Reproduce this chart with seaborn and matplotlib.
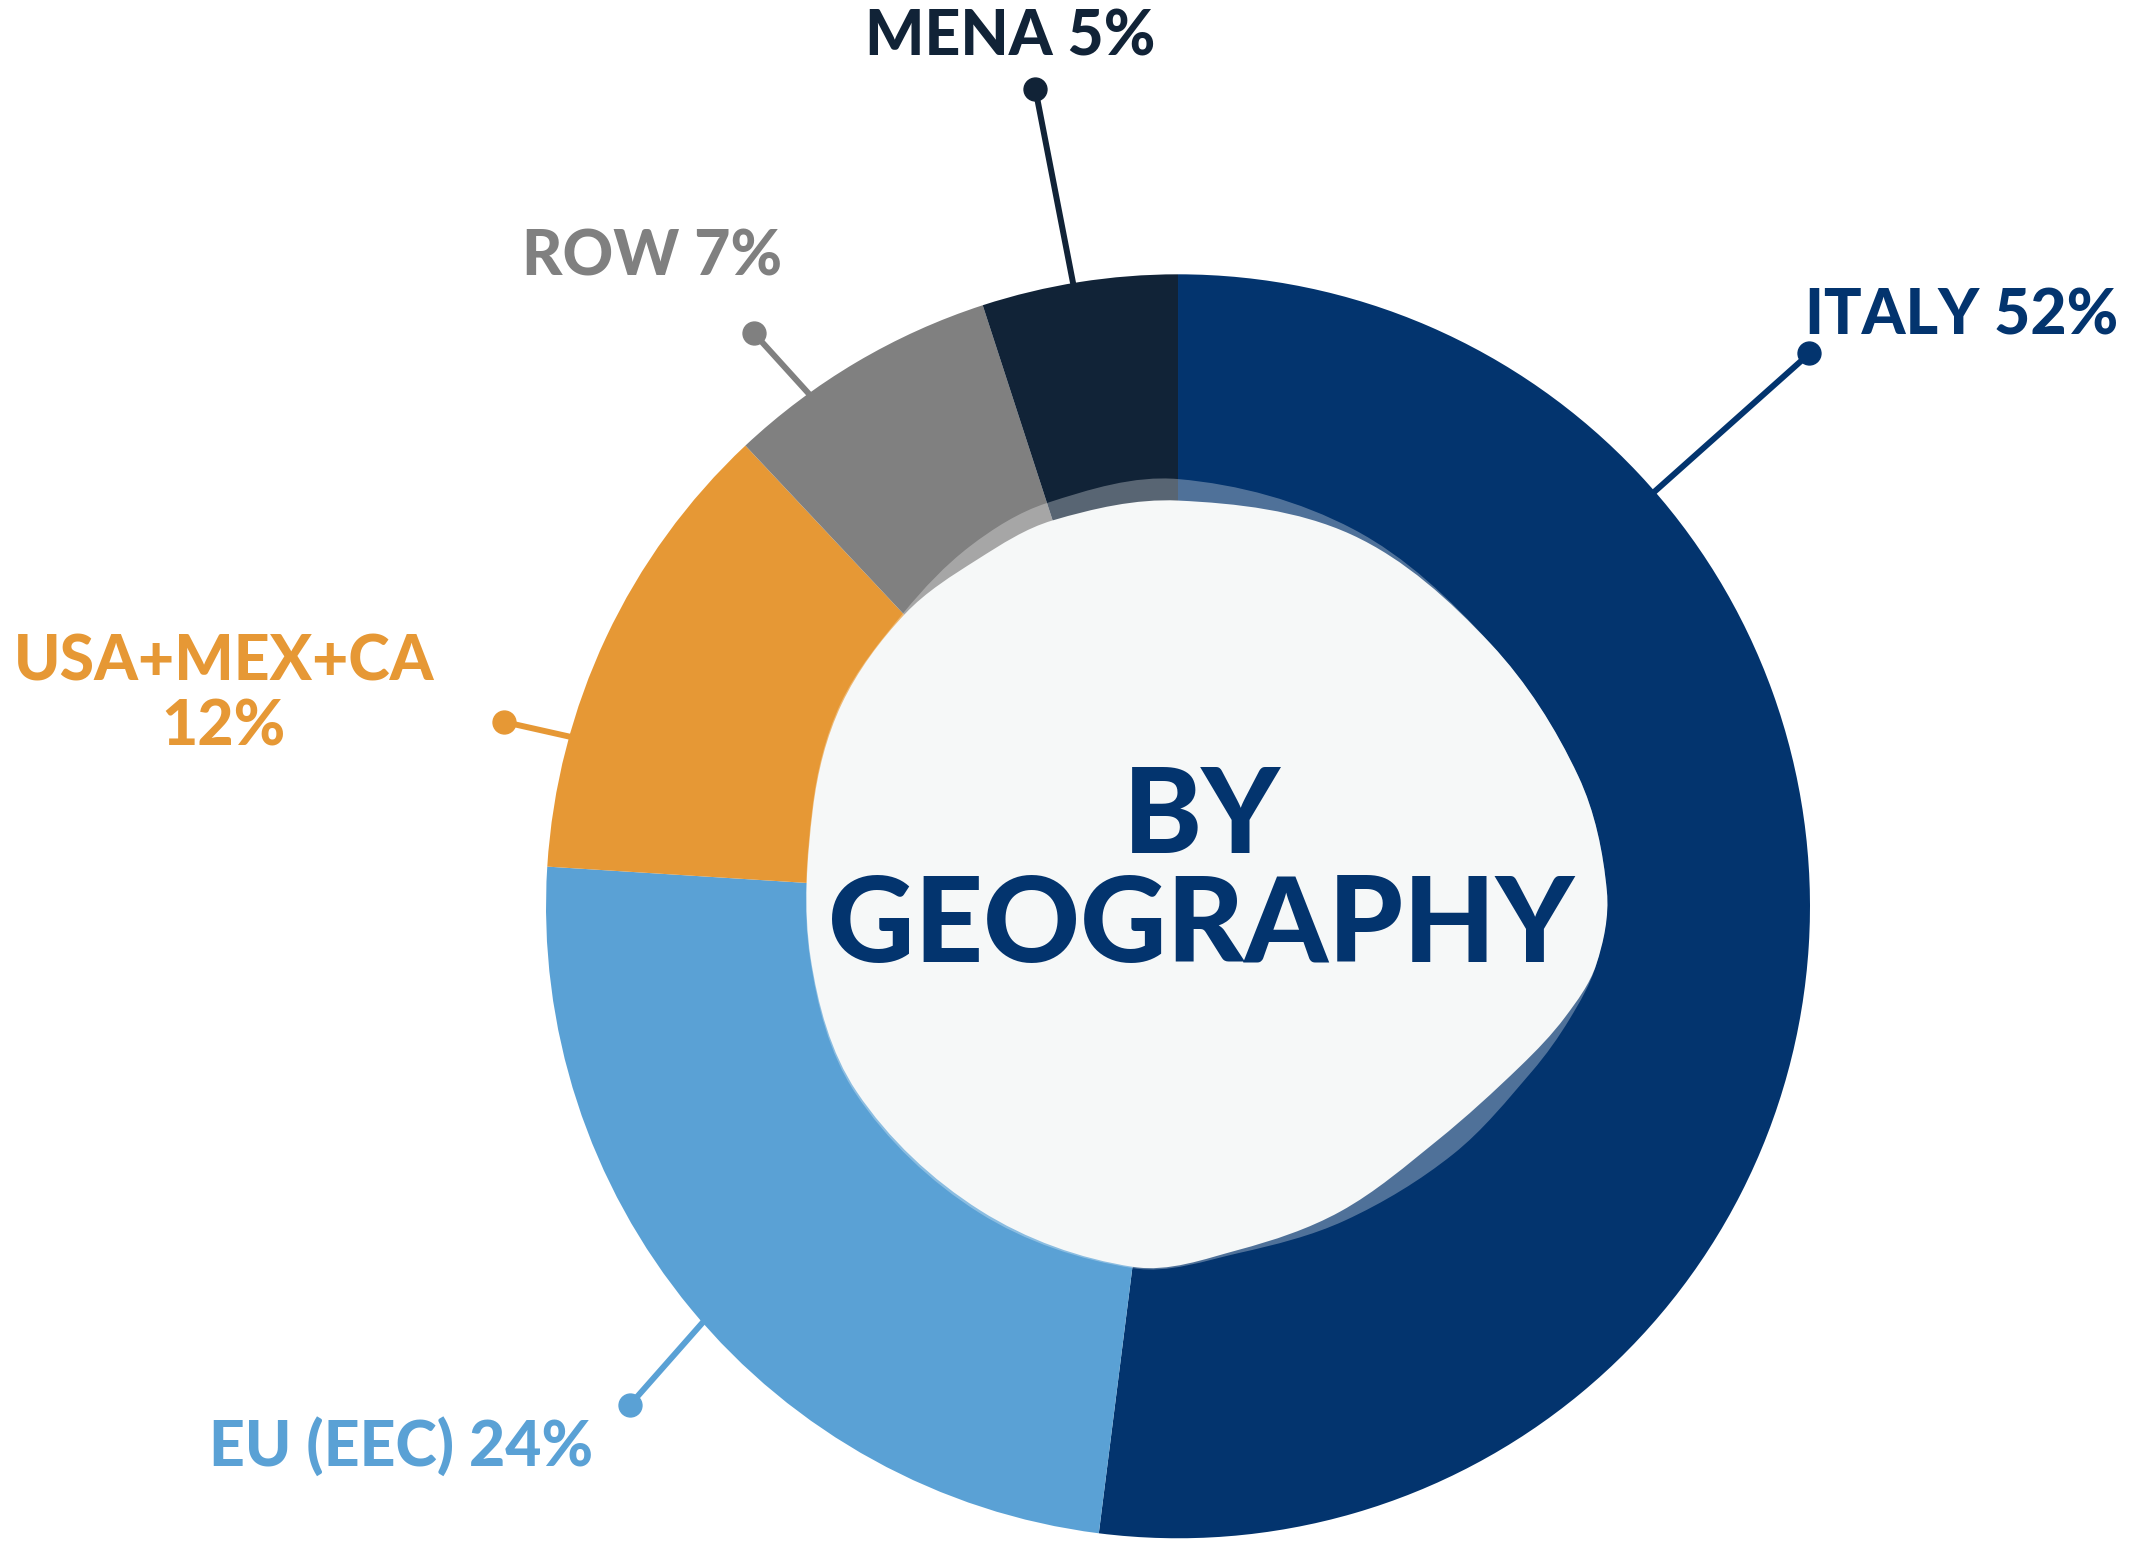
import numpy as np
import matplotlib
matplotlib.use("Agg")
import matplotlib.pyplot as plt
from matplotlib.path import Path
from matplotlib.patches import PathPatch
import seaborn as sns

# Data
regions = ["ITALY", "EU (EEC)", "USA+MEX+CA", "ROW", "MENA"]
shares = [52, 24, 12, 7, 5]
label_texts = ["ITALY 52%", "EU (EEC) 24%", "USA+MEX+CA\n12%", "ROW 7%", "MENA 5%"]

# Style / layout
colors = ["#03346E", "#5AA1D5", "#E69835", "#808080", "#112337"]
edge_angles = [41.0, 220.9, 164.3, 125.5, 99.5]      # where the leader leaves the ring
dot_angles = [41.2, 222.3, 164.7, 126.5, 99.9]
dot_radii = [1.328, 1.173, 1.105, 1.128, 1.312]
label_pos = [(1.24, 0.933), (-1.23, -0.855), (-1.51, 0.334), (-0.833, 1.026), (-0.265, 1.375)]

# Decorative blob in the hole (polar anchors, relative to outer radius)
blob_angles = [90, 65, 40, 18, 2, -8, -16, -25, -42, -62, -80, -97, -123, -150, -172,
               -195, -211, -227, -240, -252]
blob_r = [0.642, 0.649, 0.646, 0.666, 0.679, 0.668, 0.637, 0.598, 0.553, 0.547, 0.552, 0.575,
          0.574, 0.587, 0.587, 0.598, 0.621, 0.633, 0.634, 0.642]
shadow_r = [0.676, 0.658, 0.646, 0.666, 0.679, 0.668, 0.645, 0.618, 0.586, 0.563, 0.557, 0.577,
            0.578, 0.590, 0.588, 0.599, 0.623, 0.636, 0.658, 0.671]


def blob_path(angles, radii):
    a = np.deg2rad(angles)
    pts = np.column_stack([np.array(radii) * np.cos(a), np.array(radii) * np.sin(a)])
    n = len(pts)
    tang = []
    for i in range(n):
        d = pts[(i + 1) % n] - pts[i - 1]
        tang.append(d / np.hypot(*d))
    verts = [pts[0]]
    codes = [Path.MOVETO]
    for i in range(n):
        j = (i + 1) % n
        h = np.hypot(*(pts[j] - pts[i])) / 3
        verts += [pts[i] + tang[i] * h, pts[j] - tang[j] * h, pts[j]]
        codes += [Path.CURVE4] * 3
    verts.append(pts[0])
    codes.append(Path.CLOSEPOLY)
    return Path(verts, codes)


sns.set_theme(style="white")
plt.rcParams["font.family"] = ["Lato", "DejaVu Sans"]

fig = plt.figure(figsize=(21.5, 15.56), dpi=100)
ax = fig.add_axes([0, 0, 1, 1])

ax.pie(shares, colors=colors, startangle=90, counterclock=False, radius=1.0,
       wedgeprops=dict(linewidth=0))

ax.add_patch(PathPatch(blob_path(blob_angles, shadow_r), facecolor="white", alpha=0.3,
                       edgecolor="none", zorder=3))
ax.add_patch(PathPatch(blob_path(blob_angles, blob_r), facecolor="#F6F8F8",
                       edgecolor="none", zorder=4))

for txt, col, ea, da, dr, (tx, ty) in zip(label_texts, colors, edge_angles, dot_angles,
                                          dot_radii, label_pos):
    e, d = np.deg2rad(ea), np.deg2rad(da)
    ax.plot([0.96 * np.cos(e), dr * np.cos(d)], [0.96 * np.sin(e), dr * np.sin(d)],
            color=col, lw=4.3, solid_capstyle="round", zorder=5)
    ax.plot(dr * np.cos(d), dr * np.sin(d), "o", color=col, ms=16.5, zorder=6)
    ax.text(tx, ty, txt, color=col, fontsize=45, fontweight="black", ha="center",
            va="center", linespacing=1.15, zorder=6)

ax.text(0.037, 0.052, "BY\nGEOGRAPHY", color="#03346E", fontsize=86, fontweight="black",
        ha="center", va="center", linespacing=1.01, zorder=7)

ax.set_xlim(-1.864, 1.538)
ax.set_ylim(-1.028, 1.434)
ax.set_aspect("equal")
ax.axis("off")

fig.savefig("out.png", dpi=100, facecolor="white")
